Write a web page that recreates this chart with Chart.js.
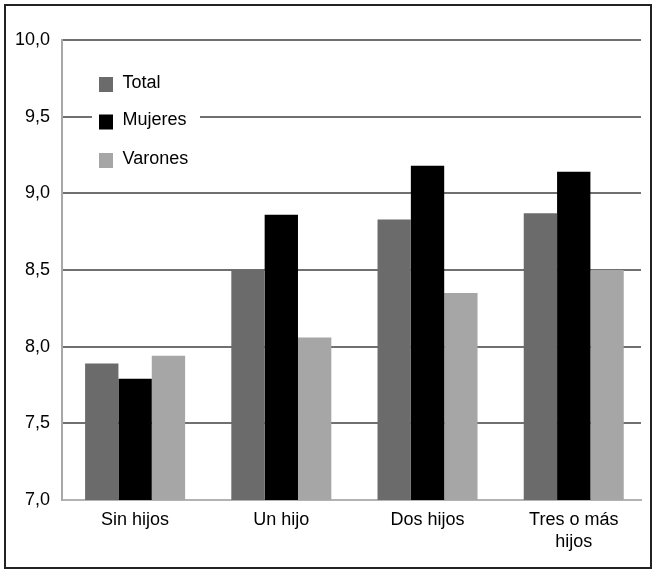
<!DOCTYPE html>
<html>
<head>
<meta charset="utf-8">
<script src="https://cdn.jsdelivr.net/npm/chart.js@4/dist/chart.umd.min.js"></script>
<style>
  html, body { margin: 0; padding: 0; background: #fff; }
  #wrap { position: relative; width: 652px; height: 569px; }
  #frame { position: absolute; left: 4px; top: 4px; width: 644px; height: 561px; border: 2px solid #222; pointer-events: none; }
  canvas { position: absolute; left: 0; top: 0; }
</style>
</head>
<body>
<div id="wrap">
  <canvas id="myChart" width="652" height="569"></canvas>
  <div id="frame"></div>
</div>
<script>
const categories = ['Sin hijos', 'Un hijo', 'Dos hijos', ['Tres o más', 'hijos']];
const total = [7.89, 8.50, 8.83, 8.87];
const mujeres = [7.79, 8.86, 9.18, 9.14];
const varones = [7.94, 8.06, 8.35, 8.50];
const yTicks = [7.0, 7.5, 8.0, 8.5, 9.0, 9.5, 10.0];

const FONT = 'Liberation Sans, Arial, Helvetica, sans-serif';

const toPoints = arr => arr.map((v, i) => ({ x: i, y: v }));

// legend drawn inside the plot, with white box over the gridline
const insideLegend = {
  id: 'insideLegend',
  afterDraw(chart) {
    const ctx = chart.ctx;
    ctx.save();
    ctx.fillStyle = '#fff';
    ctx.fillRect(92, 66, 108, 110);
    const rows = [84.5, 122, 160.5];
    ctx.font = '18px ' + FONT;
    ctx.textBaseline = 'middle';
    chart.data.datasets.forEach((ds, i) => {
      ctx.fillStyle = ds.backgroundColor;
      ctx.fillRect(99, rows[i] - 7.5, 14, 15);
      ctx.fillStyle = '#000';
      ctx.fillText(ds.label, 122.5, rows[i] - 1.5);
    });
    ctx.restore();
  }
};

new Chart(document.getElementById('myChart').getContext('2d'), {
  type: 'bar',
  data: {
    datasets: [
      { label: 'Total', data: toPoints(total), backgroundColor: '#6b6b6b' },
      { label: 'Mujeres', data: toPoints(mujeres), backgroundColor: '#000000' },
      { label: 'Varones', data: toPoints(varones), backgroundColor: '#a6a6a6' }
    ]
  },
  options: {
    responsive: false,
    animation: false,
    layout: { padding: { top: 40, right: 11, bottom: 0, left: 0 } },
    datasets: { bar: { categoryPercentage: 0.684, barPercentage: 1.0, borderWidth: 0 } },
    plugins: { legend: { display: false }, tooltip: { enabled: false } },
    scales: {
      x: {
        type: 'linear',
        min: -0.5,
        max: 3.46,
        offset: false,
        afterBuildTicks: scale => { scale.ticks = categories.map((c, i) => ({ value: i })); },
        afterFit: scale => { scale.height = 69; },
        grid: { display: false, drawTicks: false, offset: false },
        border: { display: true, color: '#b3b3b3', width: 2 },
        ticks: {
          padding: 10,
          color: '#000',
          font: { family: FONT, size: 18, lineHeight: 1.17 },
          maxRotation: 0,
          autoSkip: false,
          callback: (v, i) => categories[i]
        }
      },
      y: {
        min: 7,
        max: 10,
        afterBuildTicks: scale => { scale.ticks = yTicks.map(v => ({ value: v })); },
        afterFit: scale => { scale.width = 62; },
        grid: {
          drawTicks: false,
          lineWidth: 2,
          color: c => (c.tick && c.tick.value === 7 ? '#b3b3b3' : '#707070')
        },
        border: { display: true, color: '#a8a8a8', width: 2 },
        ticks: {
          padding: 12,
          color: '#000',
          font: { family: FONT, size: 18 },
          callback: v => v.toFixed(1).replace('.', ',')
        }
      }
    }
  },
  plugins: [insideLegend]
});
</script>
</body>
</html>
